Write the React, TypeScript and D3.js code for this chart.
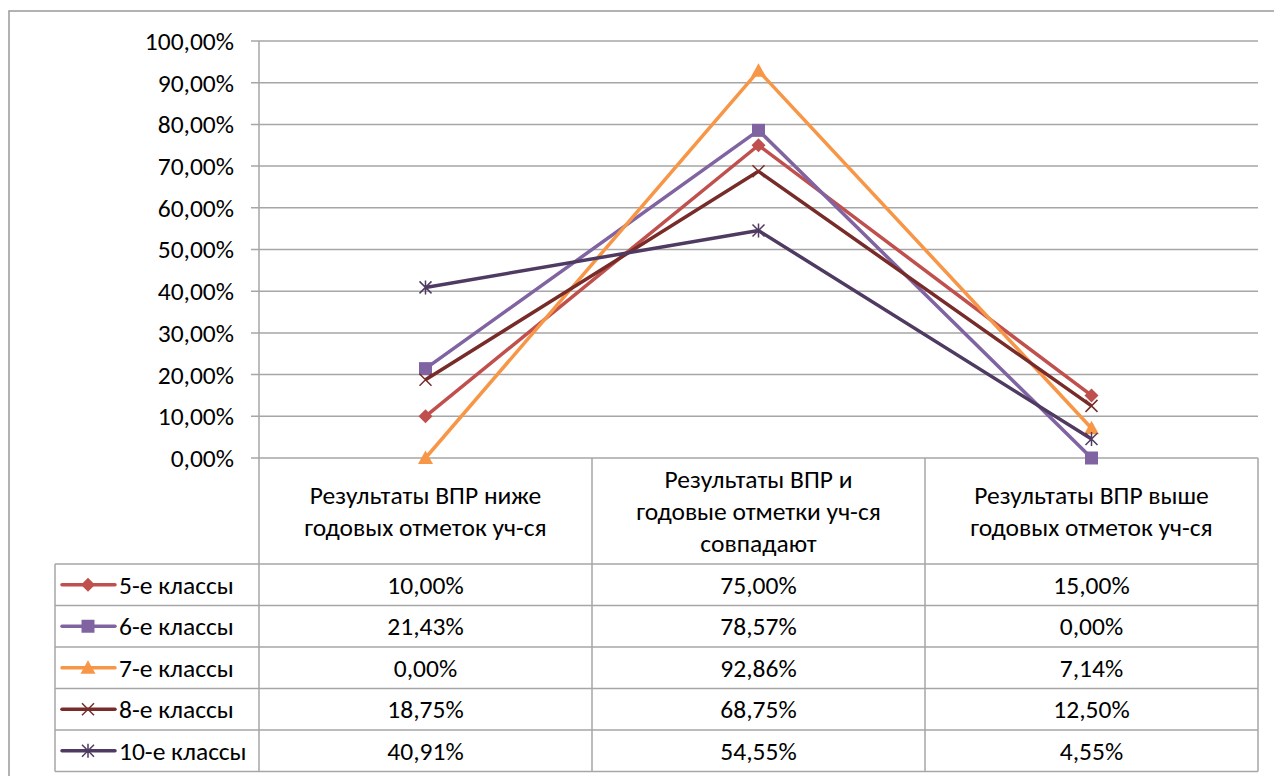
import { useEffect, useRef } from 'react';
import * as d3 from 'd3';

// categories (x axis / table header)
const categories = [
  ['Результаты ВПР ниже', 'годовых отметок уч-ся'],
  ['Результаты ВПР и', 'годовые отметки уч-ся', 'совпадают'],
  ['Результаты ВПР выше', 'годовых отметок уч-ся'],
];
const seriesNames = ['5-е классы', '6-е классы', '7-е классы', '8-е классы', '10-е классы'];
const seriesColors = ['#C0504D', '#8064A2', '#F79646', '#772C2A', '#4F3B62'];
const seriesMarkers = ['diamond', 'square', 'triangle', 'x', 'star'];
const values5 = [10.0, 75.0, 15.0];
const values6 = [21.43, 78.57, 0.0];
const values7 = [0.0, 92.86, 7.14];
const values8 = [18.75, 68.75, 12.5];
const values10 = [40.91, 54.55, 4.55];
const seriesValues = [values5, values6, values7, values8, values10];
const yTicks = [0, 10, 20, 30, 40, 50, 60, 70, 80, 90, 100];

const fmt = (v: number) => v.toFixed(2).replace('.', ',') + '%';
const FONT = 'Carlito, "Liberation Sans", Arial, sans-serif';
const FS = 25.5;

function drawMarker(g: any, type: string, x: number, y: number, color: string) {
  if (type === 'diamond') {
    g.append('path').attr('d', `M${x},${y - 7}L${x + 7},${y}L${x},${y + 7}L${x - 7},${y}Z`).attr('fill', color);
  } else if (type === 'square') {
    g.append('rect').attr('x', x - 6.5).attr('y', y - 6.5).attr('width', 13).attr('height', 13).attr('fill', color);
  } else if (type === 'triangle') {
    g.append('path').attr('d', `M${x},${y - 7.5}L${x + 7.5},${y + 6}L${x - 7.5},${y + 6}Z`).attr('fill', color);
  } else if (type === 'x') {
    g.append('path').attr('d', `M${x - 6},${y - 6}L${x + 6},${y + 6}M${x - 6},${y + 6}L${x + 6},${y - 6}`)
      .attr('stroke', color).attr('stroke-width', 1.5);
  } else if (type === 'star') {
    g.append('path')
      .attr('d', `M${x - 6},${y - 6}L${x + 6},${y + 6}M${x - 6},${y + 6}L${x + 6},${y - 6}M${x},${y - 7}L${x},${y + 7}`)
      .attr('stroke', color).attr('stroke-width', 1.5);
  }
}

export default function App() {
  const svgRef = useRef<SVGSVGElement>(null);

  useEffect(() => {
    if (!svgRef.current) return;
    const width = 1274;
    const height = 776;
    const svg = d3.select(svgRef.current);
    svg.selectAll('*').remove();
    svg.attr('width', width).attr('height', height);

    const left = 259;
    const right = 1258;
    const top = 41;
    const bottom = 458;
    const legendLeft = 55;
    const headerBottom = 564;
    const rowH = 41.5;
    const gridColor = '#A6A6A6';

    // outer frame
    svg.append('rect').attr('x', 9).attr('y', 11).attr('width', width).attr('height', height)
      .attr('fill', 'white').attr('stroke', '#999').attr('stroke-width', 1.5);

    const x = d3.scaleBand().domain(categories.map((_, i) => String(i))).range([left, right]);
    const y = d3.scaleLinear().domain([0, 100]).range([bottom, top]);

    // gridlines + ticks
    const grid = svg.append('g');
    yTicks.forEach((t) => {
      grid.append('line').attr('x1', left - 8).attr('x2', right).attr('y1', y(t)).attr('y2', y(t))
        .attr('stroke', gridColor).attr('stroke-width', 1.5);
      grid.append('text').attr('x', 234).attr('y', y(t)).attr('dy', '0.35em')
        .attr('text-anchor', 'end').attr('font-family', FONT).attr('font-size', FS).attr('fill', '#000')
        .text(fmt(t));
    });
    grid.append('line').attr('x1', left).attr('x2', left).attr('y1', top).attr('y2', bottom)
      .attr('stroke', gridColor).attr('stroke-width', 1.5);

    // table lines
    const tbl = svg.append('g').attr('stroke', gridColor).attr('stroke-width', 1.5);
    const tableBottom = headerBottom + rowH * seriesNames.length;
    [left, left + x.bandwidth(), left + 2 * x.bandwidth(), right].forEach((cx) => {
      tbl.append('line').attr('x1', cx).attr('x2', cx).attr('y1', bottom).attr('y2', tableBottom);
    });
    tbl.append('line').attr('x1', legendLeft).attr('x2', legendLeft).attr('y1', headerBottom).attr('y2', tableBottom);
    for (let i = 0; i <= seriesNames.length; i++) {
      const ry = headerBottom + rowH * i;
      tbl.append('line').attr('x1', legendLeft).attr('x2', right).attr('y1', ry).attr('y2', ry);
    }

    // header text
    categories.forEach((lines, ci) => {
      const cx = (x(String(ci)) as number) + x.bandwidth() / 2;
      const lh = 32;
      const startY = (bottom + headerBottom) / 2 - ((lines.length - 1) * lh) / 2;
      lines.forEach((ln, li) => {
        svg.append('text').attr('x', cx).attr('y', startY + li * lh).attr('dy', '0.35em')
          .attr('text-anchor', 'middle').attr('font-family', FONT).attr('font-size', FS).text(ln);
      });
    });

    // table rows
    seriesNames.forEach((name, si) => {
      const cy = headerBottom + rowH * si + rowH / 2;
      const color = seriesColors[si];
      const lg = svg.append('g');
      lg.append('line').attr('x1', 62).attr('x2', 115).attr('y1', cy).attr('y2', cy)
        .attr('stroke', color).attr('stroke-width', 3.5).attr('stroke-linecap', 'round');
      drawMarker(lg, seriesMarkers[si], 88, cy, color);
      svg.append('text').attr('x', 119).attr('y', cy).attr('dy', '0.35em')
        .attr('font-family', FONT).attr('font-size', FS).text(name);
      seriesValues[si].forEach((v, ci) => {
        svg.append('text').attr('x', (x(String(ci)) as number) + x.bandwidth() / 2).attr('y', cy)
          .attr('dy', '0.35em').attr('text-anchor', 'middle').attr('font-family', FONT)
          .attr('font-size', FS).text(fmt(v));
      });
    });

    // lines
    const line = d3.line<number>()
      .x((_, i) => (x(String(i)) as number) + x.bandwidth() / 2)
      .y((d) => y(d));
    seriesValues.forEach((vals, si) => {
      const g = svg.append('g');
      g.append('path').attr('d', line(vals) as string).attr('fill', 'none')
        .attr('stroke', seriesColors[si]).attr('stroke-width', 3.5).attr('stroke-linejoin', 'round');
      vals.forEach((v, i) => {
        drawMarker(g, seriesMarkers[si], (x(String(i)) as number) + x.bandwidth() / 2, y(v), seriesColors[si]);
      });
    });
  }, []);

  return (
    <div style={{ position: 'absolute', left: 0, top: 0 }}>
      <svg ref={svgRef} style={{ display: 'block' }} />
    </div>
  );
}
